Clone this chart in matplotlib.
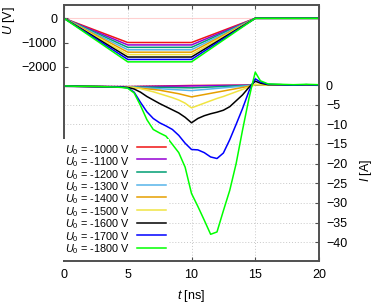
import numpy as np
import matplotlib
matplotlib.use('Agg')
import matplotlib.pyplot as plt

plt.rcParams['font.family'] = 'Liberation Sans'
plt.rcParams['mathtext.fontset'] = 'custom'
plt.rcParams['mathtext.it'] = 'Liberation Sans:italic'
plt.rcParams['mathtext.rm'] = 'Liberation Sans'

# applied voltages and their colours
u0 = [-1000, -1100, -1200, -1300, -1400, -1500, -1600, -1700, -1800]
colors = ['#f01414', '#9400d3', '#009e73', '#56b4e9', '#e69f00',
          '#f0e442', '#000000', '#0000ff', '#00ff00']

# voltage pulse shape (time points in ns)
t_u = [0, 5, 10, 15, 20]

# currents, small ones on a short time grid
t_lin = [0, 5, 10, 15, 15.4, 16, 20]
i_1000 = [-0.3, -0.4, -0.1, 0.0, 0.1, 0.0, 0.0]
i_1100 = [-0.3, -0.4, -0.2, 0.0, 0.1, 0.0, 0.0]
i_1200 = [-0.3, -0.45, -0.7, 0.0, 0.1, 0.0, 0.0]
i_1300 = [-0.3, -0.45, -1.4, 0.0, 0.1, 0.0, 0.0]

# bigger currents on a finer time grid
t_i = [0, 1, 2, 3, 4, 4.5, 5, 5.5, 6, 6.5, 7, 7.5, 8, 8.5, 9, 9.5, 10,
       10.5, 11, 11.5, 12, 12.5, 13, 13.5, 14, 14.5, 14.75, 15, 15.4, 16,
       17, 18, 19, 20]
i_1400 = [-0.3, -0.3, -0.35, -0.4, -0.45, -0.5, -0.5, -0.65, -0.8, -0.95,
          -1.1, -1.3, -1.6, -1.9, -2.2, -2.6, -3.0, -2.7, -2.4, -2.1, -1.8,
          -1.5, -1.2, -0.9, -0.6, -0.3, -0.15, 0.1, 0.1, 0.0, 0.0, 0.0,
          0.0, 0.0]
i_1500 = [-0.3, -0.3, -0.35, -0.4, -0.45, -0.5, -0.5, -0.6, -0.9, -1.3,
          -1.7, -2.2, -2.7, -3.2, -3.8, -4.6, -5.8, -5.2, -4.6, -4.0, -3.4,
          -2.9, -2.3, -1.7, -1.1, -0.5, -0.2, 0.2, 0.1, 0.0, 0.0, 0.0,
          0.0, 0.0]
i_1600 = [-0.25, -0.3, -0.35, -0.4, -0.45, -0.5, -0.6, -1.0, -1.8, -2.9,
          -3.8, -4.7, -5.5, -6.3, -7.1, -8.2, -9.6, -8.5, -7.8, -7.3, -6.9,
          -6.4, -5.5, -4.0, -2.5, -0.6, 0.2, 1.0, 0.5, 0.1, 0.1, 0.0,
          0.1, 0.0]
i_1700 = [-0.25, -0.3, -0.35, -0.4, -0.45, -0.5, -0.7, -1.8, -4.4, -6.8,
          -8.5, -9.6, -10.4, -11.3, -12.8, -14.8, -16.4, -16.5, -17.2,
          -18.3, -18.7, -17.3, -13.9, -10.0, -6.0, -1.6, 0.2, 1.6, 0.8,
          0.2, 0.1, 0.0, 0.1, 0.0]
i_1800 = [-0.2, -0.3, -0.3, -0.4, -0.5, -0.6, -0.8, -2.0, -5.2, -8.8,
          -11.3, -12.2, -13.0, -15.1, -17.2, -20.9, -27.6, -30.9, -34.4,
          -38.0, -37.4, -32.0, -26.8, -20.0, -11.5, -3.5, 0.0, 3.3, 1.1,
          0.3, 0.2, 0.1, 0.2, 0.1]

currents = [(t_lin, i_1000), (t_lin, i_1100), (t_lin, i_1200),
            (t_lin, i_1300), (t_i, i_1400), (t_i, i_1500), (t_i, i_1600),
            (t_i, i_1700), (t_i, i_1800)]

fig = plt.figure(figsize=(3.74, 3.06), dpi=100)
ax = fig.add_axes([64 / 374, 1 - 261 / 306, 255 / 374, 256 / 306])
ax2 = ax.twinx()

frame = '#505050'
for a in (ax, ax2):
    for s in a.spines.values():
        s.set_color(frame)
        s.set_linewidth(1.2)

ax.axhline(0, color='#ffd0d0', lw=0.8, zorder=0)

for k in range(len(u0)):
    ax.plot(t_u, [0, u0[k], u0[k], 0, 0], color=colors[k], lw=1.1)

handles = []
for k in range(len(u0)):
    tt, ii = currents[k]
    h, = ax2.plot(tt, ii, color=colors[k], lw=1.1)
    handles.append(h)

ax.set_xlim(0, 20)
ax.set_ylim(-10030, 550)
ax2.set_ylim(-44.8, 20.4)

ax.set_xticks([0, 5, 10, 15, 20])
ax.set_yticks([0, -1000, -2000])
ax2.set_yticks(np.arange(0, -41, -5))

ax.tick_params(axis='x', direction='in', length=3, width=0.8, color=frame,
               top=True, labelsize=9, pad=6)
ax.tick_params(axis='y', direction='in', length=3, width=0.8, color=frame,
               labelsize=9, pad=5)
ax2.tick_params(axis='y', direction='in', length=3, width=0.8, color=frame,
                labelsize=9, pad=5)

ax.grid(True, axis='x', color='#c8c8c8', ls=(0, (1, 2)), lw=0.7)
ax2.grid(True, axis='y', color='#c8c8c8', ls=(0, (1, 2)), lw=0.7)

# key: line samples from the legend, labels as one right-aligned block
labels = ['$U_0$ = %d V' % v for v in u0]
leg = ax2.legend(handles, [''] * len(u0), loc='upper left',
                 bbox_to_anchor=(133.7 / 374, 1 - 139.3 / 306),
                 bbox_transform=fig.transFigure,
                 frameon=True, fancybox=False, edgecolor='none',
                 facecolor='white', framealpha=1, fontsize=7.8,
                 handlelength=2.68, handletextpad=0, labelspacing=0.245,
                 borderpad=0.3, borderaxespad=0)
ax2.text(130.3 / 374, 1 - 252.4 / 306, '\n'.join(labels),
         transform=fig.transFigure, ha='right', va='baseline',
         multialignment='right', fontsize=7.8, linespacing=0.865, zorder=6,
         bbox=dict(facecolor='white', edgecolor='none', pad=3))

fig.text(9 / 374, 1 - 21 / 306, '$U$ [V]', rotation=90, ha='center',
         va='center', fontsize=9)
fig.text(366 / 374, 1 - 170 / 306, '$I$ [A]', rotation=90, ha='center',
         va='center', fontsize=9)
fig.text(191.5 / 374, 1 - 296 / 306, '$t$ [ns]', ha='center', va='center',
         fontsize=9)

fig.savefig('out.png', dpi=100)
